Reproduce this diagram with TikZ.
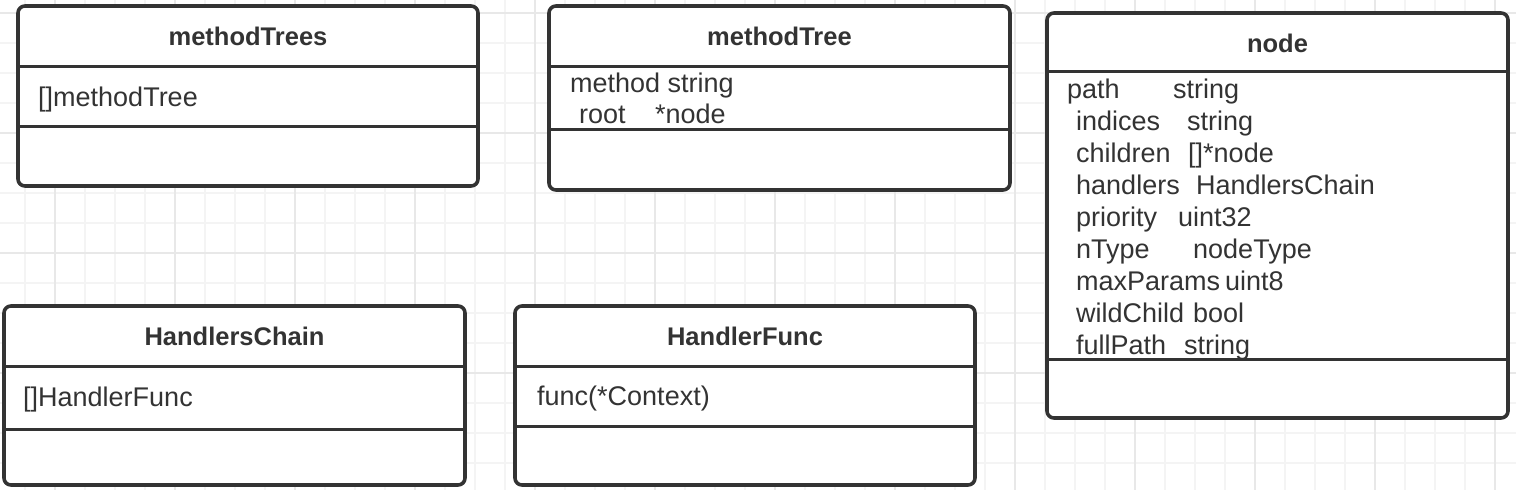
\documentclass[tikz,border=0pt]{standalone}
\usepackage{fontspec}
\setmainfont{Liberation Sans}
\usetikzlibrary{calc}
\definecolor{umlgray}{HTML}{333333}
\definecolor{gridminor}{HTML}{F4F4F4}
\definecolor{gridmajor}{HTML}{E8E8E8}
\tikzset{%
  % Specifications for the class boxes:
      classbox/.style = {rectangle, rounded corners=7pt, draw=umlgray, line width=3.6pt,
                         fill=white, anchor=north west, inner sep=0pt, outer sep=0pt},
       divider/.style = {draw=umlgray, line width=3pt},
     classname/.style = {anchor=base, inner sep=0pt, text=umlgray,
                         font=\fontsize{25.5}{30}\selectfont\bfseries},
         field/.style = {anchor=base west, inner sep=0pt, text=umlgray,
                         font=\fontsize{27}{32}\selectfont}
                         }

\begin{document}
\begin{tikzpicture}[x=1pt, y=-1pt]
    \useasboundingbox (0,0) rectangle (1516,490);

    % background grid
    \foreach \gx in {25,55,...,1495} \draw[gridminor, line width=1.3pt] (\gx,0) -- (\gx,490);
    \foreach \gy in {13,43,...,463}  \draw[gridminor, line width=1.3pt] (0,\gy) -- (1516,\gy);
    \foreach \gx in {55,175,...,1495} \draw[gridmajor, line width=1.3pt] (\gx,0) -- (\gx,490);
    \foreach \gy in {13,133,...,373}  \draw[gridmajor, line width=1.3pt] (0,\gy) -- (1516,\gy);

    % boxes
    \node (trees) [classbox, minimum width=460pt, minimum height=180pt] at (18,6)    {};
    \node (tree)  [classbox, minimum width=461pt, minimum height=184pt] at (549,6)   {};
    \node (node)  [classbox, minimum width=461pt, minimum height=405pt] at (1047,13) {};
    \node (chain) [classbox, minimum width=461pt, minimum height=179pt] at (4,306)   {};
    \node (func)  [classbox, minimum width=460pt, minimum height=179pt] at (515,306) {};

    % compartments
    \draw[divider] ($(trees.north west)+(0,60)$)  -- ($(trees.north east)+(0,60)$);
    \draw[divider] ($(trees.north west)+(0,120)$) -- ($(trees.north east)+(0,120)$);
    \draw[divider] ($(tree.north west)+(0,60)$)   -- ($(tree.north east)+(0,60)$);
    \draw[divider] ($(tree.north west)+(0,123)$)  -- ($(tree.north east)+(0,123)$);
    \draw[divider] ($(node.north west)+(0,58)$)   -- ($(node.north east)+(0,58)$);
    \draw[divider] ($(node.north west)+(0,346)$)  -- ($(node.north east)+(0,346)$);
    \draw[divider] ($(chain.north west)+(0,60)$)  -- ($(chain.north east)+(0,60)$);
    \draw[divider] ($(chain.north west)+(0,123)$) -- ($(chain.north east)+(0,123)$);
    \draw[divider] ($(func.north west)+(0,60)$)   -- ($(func.north east)+(0,60)$);
    \draw[divider] ($(func.north west)+(0,120)$)  -- ($(func.north east)+(0,120)$);

    % class names
    \node (treesname) [classname] at ($(trees.north)+(0,39)$) {methodTrees};
    \node (treename)  [classname] at ($(tree.north)+(0,39)$)  {methodTree};
    \node (nodename)  [classname] at ($(node.north)+(0,39)$)  {node};
    \node (chainname) [classname] at ($(chain.north)+(0,39)$) {HandlersChain};
    \node (funcname)  [classname] at ($(func.north)+(0,39)$)  {HandlerFunc};

    % fields
    \node (treesf0) [field] at ($(trees.north west)+(20,100)$) {[]methodTree};
    \node (treef0)  [field] at ($(tree.north west)+(21,86)$)   {method string};
    \node (treef1)  [field] at ($(tree.north west)+(30,117)$)  {root};
    \node (treet1)  [field] at ($(tree.north west)+(106,117)$) {*node};
    \node (chainf0) [field] at ($(chain.north west)+(19,100)$) {[]HandlerFunc};
    \node (funcf0)  [field] at ($(func.north west)+(22,99)$)   {func(*Context)};

    \foreach \fname/\ftype/\fx/\tx [count=\i from 0] in
        {path/string/20/126, indices/string/29/140, children/{[]*node}/29/141,
         handlers/HandlersChain/29/149, priority/uint32/29/131, nType/nodeType/29/146,
         maxParams/uint8/29/178, wildChild/bool/29/146, fullPath/string/29/137}
       {\node (nodef\i) [field] at ($(node.north west)+(\fx,85+32*\i)$) {\fname};
        \node (nodet\i) [field] at ($(node.north west)+(\tx,85+32*\i)$) {\ftype};}
\end{tikzpicture}
\end{document}
